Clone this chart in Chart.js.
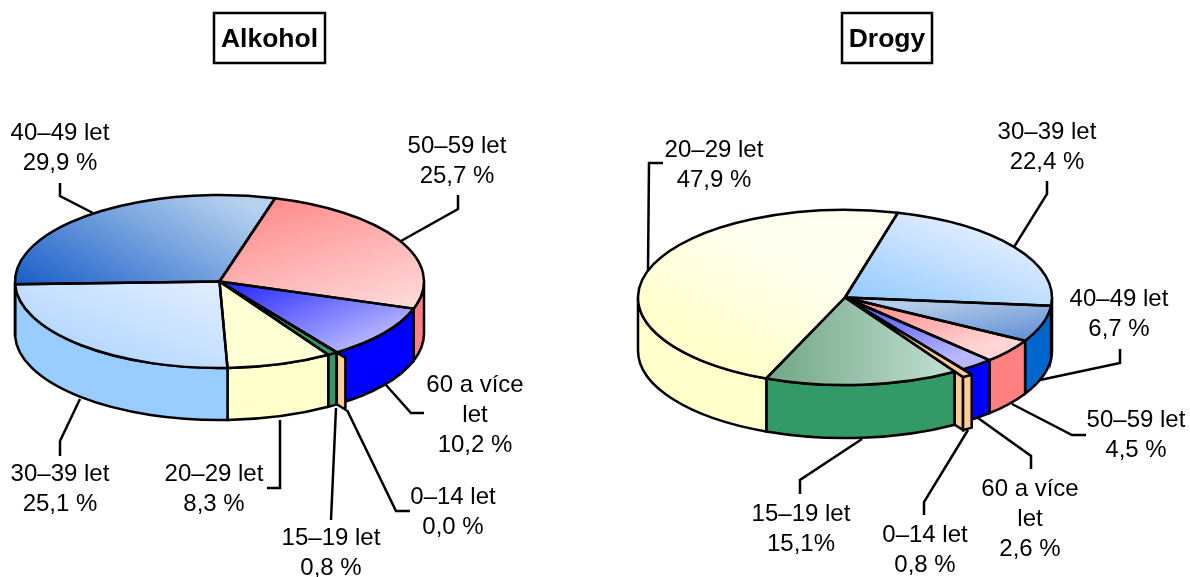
<!DOCTYPE html>
<html>
<head>
<meta charset="utf-8">
<script src="https://cdn.jsdelivr.net/npm/chart.js@4"></script>
<style>
  html, body { margin: 0; padding: 0; background: #fff; overflow: hidden; }
  canvas { position: absolute; top: 0; }
</style>
</head>
<body>
<canvas id="alkohol" width="595" height="577" style="left:0"></canvas>
<canvas id="drogy" width="595" height="577" style="left:595px"></canvas>
<script>
const categories = ['0–14 let', '15–19 let', '20–29 let', '30–39 let', '40–49 let', '50–59 let', '60 a více let'];
const alkoholValues = [0.0, 0.8, 8.3, 25.1, 29.9, 25.7, 10.2];
const drogyValues = [0.8, 15.1, 47.9, 22.4, 6.7, 4.5, 2.6];

const alkoholLabels = [['0–14 let', '0,0 %'], ['15–19 let', '0,8 %'], ['20–29 let', '8,3 %'], ['30–39 let', '25,1 %'],
  ['40–49 let', '29,9 %'], ['50–59 let', '25,7 %'], ['60 a více', 'let', '10,2 %']];
const drogyLabels = [['0–14 let', '0,8 %'], ['15–19 let', '15,1%'], ['20–29 let', '47,9 %'], ['30–39 let', '22,4 %'],
  ['40–49 let', '6,7 %'], ['50–59 let', '4,5 %'], ['60 a více', 'let', '2,6 %']];

const wallColors = ['#ffcc99', '#339966', '#ffffcc', '#99ccff', '#0066cc', '#ff8080', '#0000ff'];

// top face fills: [from, to, x0, y0, x1, y1], vector in pie radii
const alkoholFills = [
  ['#ffcc99', '#ffcc99', 0, 0, 1, 0],
  ['#339966', '#339966', 0, 0, 1, 0],
  ['#ffffd4', '#ffffd4', 0, 0, 1, 0],
  ['#e2eeff', '#a8d2ff', 0, 0, -0.9, 1],
  ['#1a5fc8', '#b6d1ee', -1, 0, 0.15, -0.85],
  ['#ff8585', '#ffd8d8', 0.1, -1, 1, 0.2],
  ['#2020ff', '#b2b2ff', 0, 0, 0.7, 0.7]
];
const drogyFills = [
  ['#ffcc99', '#ffcc99', 0, 0, 1, 0],
  ['#6fa585', '#c0dece', -0.4, 0, 0.5, 0],
  ['#ffffcc', '#fffff0', -1, 0.1, -0.3, -0.5],
  ['#99ccff', '#dcebff', 0.1, 0, 0.7, -0.7],
  ['#b5cdea', '#6a96d8', 0.5, 0, 0.7, 0.5],
  ['#ff9090', '#ffd4d4', 0.2, 0.05, 0.6, 0.6],
  ['#5555ff', '#b8b8ff', 0.1, 0.1, 0.5, 0.7]
];

// label layout, page pixels: center x, first baseline, leader line points
const alkoholLayout = [
  { x: 453, y: 504, line: [[347, 410], [396, 511], [410, 511]] },
  { x: 331, y: 545, line: [[336, 408], [331, 520]] },
  { x: 214, y: 481, line: [[280, 420], [280, 488], [267, 488]] },
  { x: 60, y: 481, line: [[80, 399], [60, 441], [60, 456]] },
  { x: 60, y: 140, line: [[60, 183], [60, 196], [93, 213]] },
  { x: 457, y: 153, line: [[458, 195], [458, 209], [401, 241]] },
  { x: 475, y: 392, line: [[386, 385], [411, 413], [424, 413]] }
];
const drogyLayout = [
  { x: 925, y: 542, line: [[968, 430], [924, 502], [924, 515]] },
  { x: 801, y: 521, line: [[862, 439], [800, 480], [800, 494]] },
  { x: 714, y: 157, line: [[663, 163], [649, 163], [648, 270]] },
  { x: 1047, y: 139, line: [[1047, 181], [1047, 194], [1014, 247]] },
  { x: 1119, y: 306, line: [[1120, 349], [1120, 363], [1040, 380]] },
  { x: 1136, y: 427, line: [[1012, 404], [1072, 435], [1086, 435]] },
  { x: 1030, y: 496, line: [[978, 418], [1031, 456], [1031, 469]] }
];

const FLAT = 0.423;
const EXPLODE = 15;
const LINE = 2.5;
const FONT = '"Liberation Sans", Arial, sans-serif';

function rimPoint(x, y, r, a) {
  return [x + Math.cos(a) * r, y + Math.sin(a) * r * FLAT];
}

function flatten(ctx, x, y) {
  ctx.translate(x, y);
  ctx.scale(1, FLAT);
  ctx.translate(-x, -y);
}

// outer wall of one slice, only the part that faces the viewer
function drawWall(ctx, x, y, r, depth, start, end, color) {
  [0, Math.PI * 2].forEach(turn => {
    const a = Math.max(start, turn);
    const b = Math.min(end, turn + Math.PI);
    if (b <= a) return;
    ctx.beginPath();
    ctx.ellipse(x, y, r, r * FLAT, 0, a, b);
    ctx.ellipse(x, y + depth, r, r * FLAT, 0, b, a, true);
    ctx.closePath();
    ctx.fillStyle = color;
    ctx.fill();
    ctx.stroke();
  });
}

function wedgeOutline(ctx, x, y, r, start, end) {
  ctx.save();
  flatten(ctx, x, y);
  ctx.beginPath();
  ctx.moveTo(x, y);
  ctx.arc(x, y, r, start, end);
  ctx.closePath();
  ctx.restore();
}

const pie3d = {
  id: 'pie3d',
  beforeDatasetsDraw(chart, args, opts) {
    const ctx = chart.ctx;
    const arcs = chart.getDatasetMeta(0).data;
    ctx.save();
    ctx.lineWidth = LINE;
    ctx.strokeStyle = '#000';
    arcs.forEach((arc, i) => {
      if (i !== opts.explodeIndex) {
        drawWall(ctx, arc.x, arc.y, arc.outerRadius, opts.depth, arc.startAngle, arc.endAngle, wallColors[i]);
      }
    });
    // the pulled out slice: radial face, then its own wall
    const arc = arcs[opts.explodeIndex];
    const mid = (arc.startAngle + arc.endAngle) / 2;
    const ox = Math.cos(mid) * EXPLODE;
    const oy = Math.sin(mid) * EXPLODE * FLAT;
    const p = rimPoint(arc.x, arc.y, arc.outerRadius, arc.endAngle);
    ctx.beginPath();
    ctx.moveTo(p[0], p[1]);
    ctx.lineTo(p[0] + ox, p[1] + oy);
    ctx.lineTo(p[0] + ox, p[1] + oy + opts.depth);
    ctx.lineTo(p[0], p[1] + opts.depth);
    ctx.closePath();
    ctx.fillStyle = wallColors[opts.explodeIndex];
    ctx.fill();
    ctx.stroke();
    drawWall(ctx, arc.x + ox, arc.y + oy, arc.outerRadius, opts.depth, arc.startAngle, arc.endAngle, wallColors[opts.explodeIndex]);
    ctx.restore();
    const first = arcs[0];
    ctx.save();
    flatten(ctx, first.x, first.y);
  },
  afterDatasetsDraw(chart, args, opts) {
    const ctx = chart.ctx;
    ctx.restore();
    const arcs = chart.getDatasetMeta(0).data;
    ctx.save();
    ctx.lineWidth = LINE;
    ctx.strokeStyle = '#000';
    ctx.lineJoin = 'round';
    arcs.forEach((arc, i) => {
      if (i === opts.explodeIndex) return;
      wedgeOutline(ctx, arc.x, arc.y, arc.outerRadius, arc.startAngle, arc.endAngle);
      ctx.stroke();
    });
    const arc = arcs[opts.explodeIndex];
    const mid = (arc.startAngle + arc.endAngle) / 2;
    wedgeOutline(ctx, arc.x + Math.cos(mid) * EXPLODE, arc.y + Math.sin(mid) * EXPLODE * FLAT,
      arc.outerRadius, arc.startAngle, arc.endAngle);
    ctx.fillStyle = wallColors[opts.explodeIndex];
    ctx.fill();
    ctx.stroke();

    // labels and leader lines are in page pixels
    ctx.translate(-opts.left, 0);
    ctx.lineJoin = 'miter';
    opts.layout.forEach(item => {
      ctx.beginPath();
      item.line.forEach((pt, n) => n ? ctx.lineTo(pt[0], pt[1]) : ctx.moveTo(pt[0], pt[1]));
      ctx.stroke();
    });
    ctx.fillStyle = '#000';
    ctx.textAlign = 'center';
    ctx.textBaseline = 'alphabetic';
    ctx.font = '24px ' + FONT;
    opts.labels.forEach((lines, i) => {
      lines.forEach((txt, n) => ctx.fillText(txt, opts.layout[i].x, opts.layout[i].y + n * 30));
    });

    // boxed heading
    const b = opts.heading;
    ctx.strokeRect(b.x, 13, b.w, 50);
    ctx.font = 'bold 26.5px ' + FONT;
    ctx.fillText(b.text, b.x + b.w / 2, 47);
    ctx.restore();
  }
};

function makePie(id, values, fills, labels, layout, o) {
  const ctx = document.getElementById(id).getContext('2d');
  const r = o.radius;
  new Chart(ctx, {
    type: 'pie',
    plugins: [pie3d],
    data: {
      labels: categories,
      datasets: [{
        data: values,
        clip: false,
        borderWidth: 0,
        backgroundColor: fills.map(f => {
          const g = ctx.createLinearGradient(o.cx - o.left + f[2] * r, o.cy + f[3] * r, o.cx - o.left + f[4] * r, o.cy + f[5] * r);
          g.addColorStop(0, f[0]);
          g.addColorStop(1, f[1]);
          return g;
        })
      }]
    },
    options: {
      responsive: false,
      animation: false,
      events: [],
      rotation: o.rotation,
      layout: {
        padding: {
          left: o.cx - o.left - r,
          right: 595 - (o.cx - o.left) - r,
          top: o.cy - r,
          bottom: 577 - o.cy - r
        }
      },
      plugins: {
        legend: { display: false },
        tooltip: { enabled: false },
        pie3d: {
          left: o.left, depth: o.depth, explodeIndex: 0,
          labels: labels, layout: layout, heading: o.heading
        }
      }
    }
  });
}

makePie('alkohol', alkoholValues, alkoholFills, alkoholLabels, alkoholLayout, {
  left: 0, cx: 219.5, cy: 281.5, radius: 204.5, depth: 52, rotation: 145,
  heading: { text: 'Alkohol', x: 214, w: 111 }
});
makePie('drogy', drogyValues, drogyFills, drogyLabels, drogyLayout, {
  left: 595, cx: 845, cy: 297.5, radius: 207, depth: 53, rotation: 145.1,
  heading: { text: 'Drogy', x: 842, w: 90 }
});
</script>
</body>
</html>
